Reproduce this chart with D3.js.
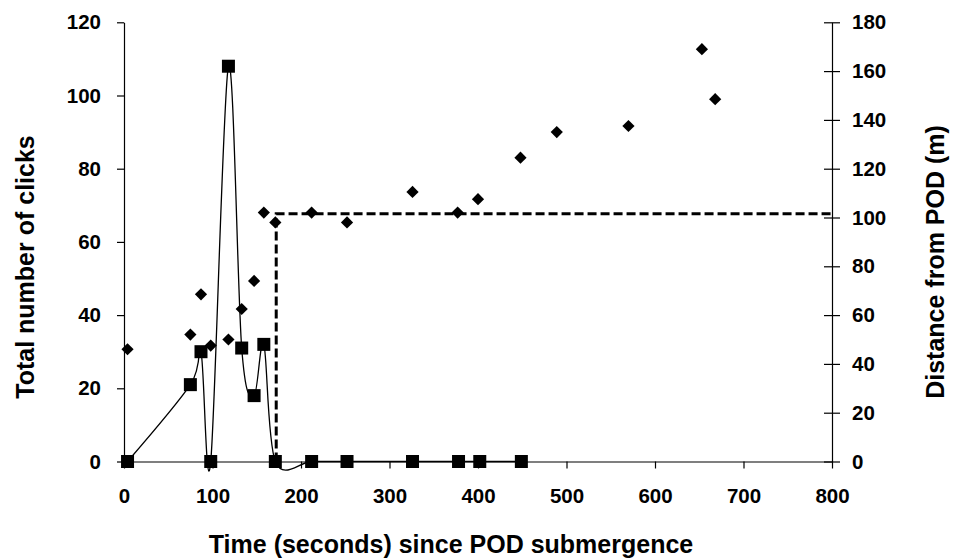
<!DOCTYPE html>
<html>
<head>
<meta charset="utf-8">
<script src="https://cdn.jsdelivr.net/npm/d3@7"></script>
<style>
  body { margin: 0; background: #fff; }
  svg text { font-family: "Liberation Sans", Arial, sans-serif; font-weight: bold; fill: #000; }
</style>
</head>
<body>
<div class="chart"></div>
<script>
// clicks (left axis) - squares joined by smoothed line
var clickTime = [4, 75, 87, 98, 118, 133, 147, 158, 171, 212, 252, 326, 378, 402, 449];
var clicks    = [0, 21, 30, 0, 108, 31, 18, 32, 0, 0, 0, 0, 0, 0, 0];

// distance from POD (right axis) - diamonds
var distTime = [4, 4, 75, 87, 98, 118, 133, 147, 158, 171, 212, 252, 326, 377, 400, 448, 489, 570, 653, 668];
var distance = [0, 46, 52, 68.5, 47.5, 50, 62.5, 74, 102, 98, 102, 98, 110.5, 102, 107.5, 124.5, 135, 137.5, 169, 148.5];

// dashed step line (right axis)
var stepTime = [172, 172, 800];
var stepDist = [0, 101.5, 101.5];

var xTicks = [0, 100, 200, 300, 400, 500, 600, 700, 800];
var leftTicks = [0, 20, 40, 60, 80, 100, 120];
var rightTicks = [0, 20, 40, 60, 80, 100, 120, 140, 160, 180];

var width = 958, height = 558;
var x0 = 124, x1 = 832, yTop = 22.3, yBot = 461.5;

var svg = d3.select(".chart").append("svg")
            .attr("width", width)
            .attr("height", height);

var x = d3.scaleLinear().domain([0, 800]).range([x0, x1]);
var yL = d3.scaleLinear().domain([0, 120]).range([yBot, yTop]);
var yR = d3.scaleLinear().domain([0, 180]).range([yBot, yTop]);

// axes
svg.append("g")
   .attr("transform", "translate(0," + yBot + ")")
   .call(d3.axisBottom(x).tickValues(xTicks).tickSize(7).tickPadding(20).tickSizeOuter(0));

svg.append("g")
   .attr("transform", "translate(" + x0 + ",0)")
   .call(d3.axisLeft(yL).tickValues(leftTicks).tickSize(7).tickPadding(16).tickSizeOuter(0));

var rightAxis = svg.append("g")
   .attr("transform", "translate(" + x1 + ",0)")
   .call(d3.axisRight(yR).tickValues(rightTicks).tickSize(8).tickPadding(12).tickSizeOuter(0));
rightAxis.selectAll(".tick line").attr("x1", -8);

svg.selectAll(".domain, .tick line").attr("stroke", "#000").attr("stroke-width", 1.2);
svg.selectAll(".tick text").style("font-size", "20.5px").attr("font-family", null);

// axis titles
svg.append("text")
   .attr("x", 451).attr("y", 553)
   .attr("text-anchor", "middle")
   .style("font-size", "25px")
   .text("Time (seconds) since POD  submergence");

svg.append("text")
   .attr("transform", "translate(34,267) rotate(-90)")
   .attr("text-anchor", "middle")
   .style("font-size", "25px")
   .text("Total number of clicks");

svg.append("text")
   .attr("transform", "translate(944,262) rotate(-90)")
   .attr("text-anchor", "middle")
   .style("font-size", "25px")
   .text("Distance from POD (m)");

// dashed step line
var stepLine = d3.line()
   .x(function(d, i){ return x(stepTime[i]); })
   .y(function(d){ return yR(d); });

svg.append("path")
   .attr("d", stepLine(stepDist))
   .attr("fill", "none")
   .attr("stroke", "#000")
   .attr("stroke-width", 3)
   .attr("stroke-dasharray", "9,4");

// smoothed clicks line
var clickLine = d3.line()
   .x(function(d, i){ return x(clickTime[i]); })
   .y(function(d){ return yL(d); })
   .curve(d3.curveCardinal.tension(0));

svg.append("path")
   .attr("d", clickLine(clicks))
   .attr("fill", "none")
   .attr("stroke", "#000")
   .attr("stroke-width", 1.3);

// diamonds
svg.selectAll("path.diamond")
   .data(distance)
   .enter()
   .append("path")
   .attr("class", "diamond")
   .attr("d", d3.symbol().type(d3.symbolDiamond2).size(95))
   .attr("transform", function(d, i){ return "translate(" + x(distTime[i]) + "," + yR(d) + ")"; })
   .attr("fill", "#000");

// squares
svg.selectAll("rect.sq")
   .data(clicks)
   .enter()
   .append("rect")
   .attr("class", "sq")
   .attr("x", function(d, i){ return x(clickTime[i]) - 6.5; })
   .attr("y", function(d){ return yL(d) - 6.5; })
   .attr("width", 13)
   .attr("height", 13)
   .attr("fill", "#000");
</script>
</body>
</html>
